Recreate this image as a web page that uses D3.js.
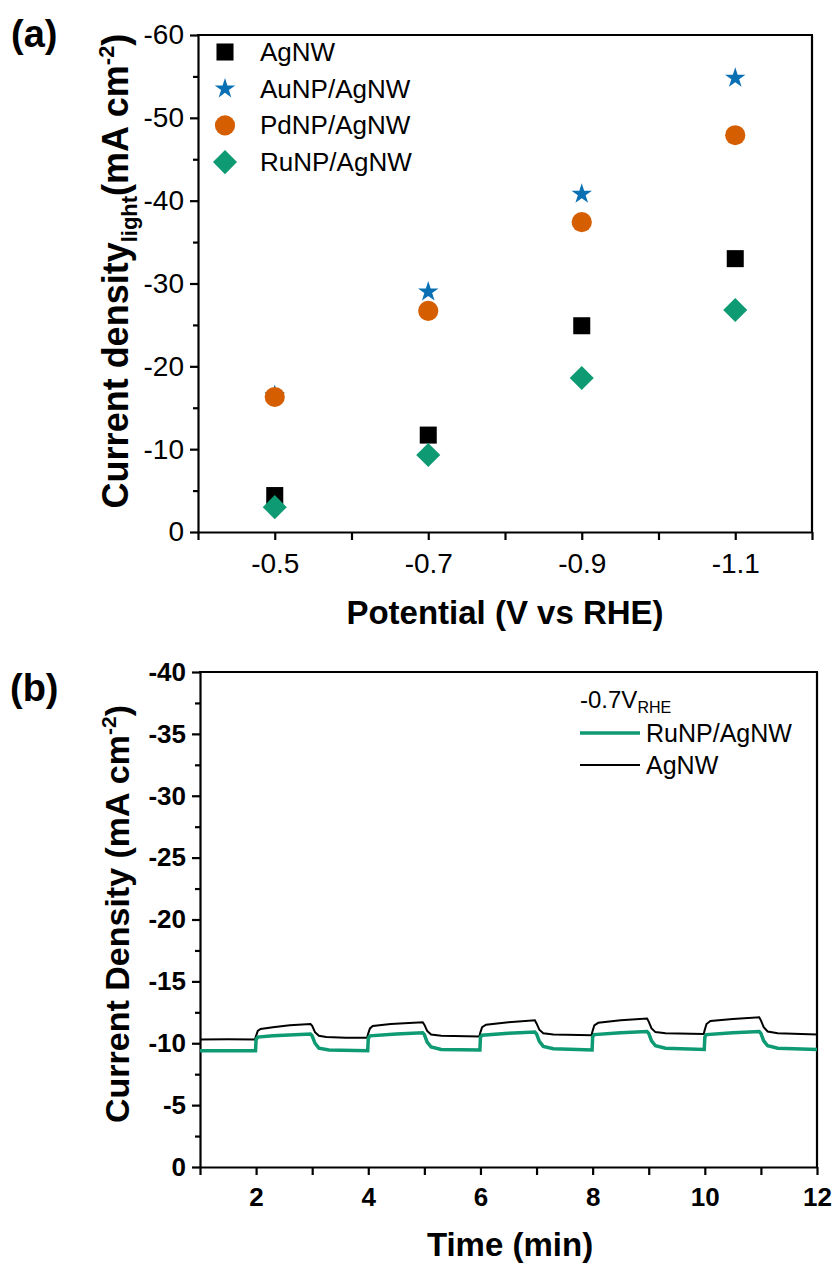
<!DOCTYPE html>
<html>
<head>
<meta charset="utf-8">
<script src="https://cdn.jsdelivr.net/npm/d3@7"></script>
<style>
  body { margin: 0; background: #fff; }
  text { font-family: "Liberation Sans", Arial, sans-serif; }
</style>
</head>
<body>
<svg width="835" height="1264"></svg>
<script>
// panel (a) data
var potentials = [-0.5, -0.7, -0.9, -1.1];
var agnw = [-4.4, -11.7, -24.9, -33.0];
var aunp = [-16.5, -29.0, -40.8, -54.8];
var pdnp = [-16.3, -26.7, -37.4, -47.9];
var runp = [-3.0, -9.3, -18.6, -26.8];
var seriesNames = ["AgNW", "AuNP/AgNW", "PdNP/AgNW", "RuNP/AgNW"];

var aXTicks = [-0.4, -0.5, -0.6, -0.7, -0.8, -0.9, -1.0, -1.1, -1.2];
var aXLabels = ["-0.5", "-0.7", "-0.9", "-1.1"];
var aYMajor = [0, -10, -20, -30, -40, -50, -60];
var aYMinor = [-5, -15, -25, -35, -45, -55];

// panel (b) data: [time (min), current density]
var agnwTime = [[1.0,-10.30],[1.5,-10.32],[1.98,-10.30],[2.0,-10.6],[2.03,-11.0],[2.08,-11.15],[2.3,-11.3],[2.6,-11.45],[2.97,-11.55],
  [3.0,-11.4],[3.05,-10.9],[3.12,-10.6],[3.25,-10.5],[3.6,-10.45],[3.98,-10.45],
  [4.0,-10.8],[4.03,-11.2],[4.08,-11.4],[4.4,-11.55],[4.97,-11.7],[5.0,-11.5],[5.05,-11.0],[5.12,-10.7],[5.3,-10.6],[5.98,-10.55],
  [6.0,-10.9],[6.03,-11.3],[6.1,-11.5],[6.5,-11.7],[6.97,-11.85],[7.0,-11.6],[7.05,-11.1],[7.12,-10.8],[7.3,-10.7],[7.98,-10.65],
  [8.0,-11.0],[8.03,-11.45],[8.1,-11.65],[8.5,-11.85],[8.97,-12.0],[9.0,-11.75],[9.05,-11.2],[9.12,-10.9],[9.3,-10.8],[9.98,-10.75],
  [10.0,-11.1],[10.03,-11.55],[10.1,-11.8],[10.5,-11.95],[10.97,-12.1],[11.0,-11.85],[11.05,-11.3],[11.12,-10.95],[11.3,-10.8],[12.0,-10.7]];
var runpTime = [[1.0,-9.4],[1.99,-9.4],[2.0,-10.3],[2.03,-10.5],[2.3,-10.6],[2.97,-10.75],[3.0,-10.6],[3.05,-10.0],[3.12,-9.6],[3.3,-9.45],[3.99,-9.4],
  [4.0,-10.4],[4.03,-10.6],[4.5,-10.75],[4.97,-10.85],[5.0,-10.7],[5.05,-10.1],[5.12,-9.7],[5.3,-9.5],[5.99,-9.45],
  [6.0,-10.5],[6.03,-10.65],[6.5,-10.8],[6.97,-10.9],[7.0,-10.75],[7.05,-10.15],[7.12,-9.75],[7.3,-9.55],[7.99,-9.45],
  [8.0,-10.5],[8.03,-10.7],[8.5,-10.85],[8.97,-10.95],[9.0,-10.8],[9.05,-10.2],[9.12,-9.8],[9.3,-9.6],[9.99,-9.5],
  [10.0,-10.5],[10.03,-10.7],[10.5,-10.85],[10.97,-10.95],[11.0,-10.8],[11.05,-10.2],[11.12,-9.8],[11.3,-9.6],[12.0,-9.5]];
var bXTicks = [1,2,3,4,5,6,7,8,9,10,11,12];
var bXLabels = [2,4,6,8,10,12];
var bYMajor = [0,-5,-10,-15,-20,-25,-30,-35,-40];
var bYMinor = [-2.5,-7.5,-12.5,-17.5,-22.5,-27.5,-32.5,-37.5];

var svg = d3.select('svg');

var colors = {black: "#000000", blue: "#0a70b4", orange: "#d55e00", green: "#0e9a73"};

function styleAxis(g, fontSize, weight) {
  g.select('.domain').attr('stroke-width', 2.2);
  g.selectAll('.tick line').attr('stroke-width', 2.2);
  g.selectAll('.tick text')
    .attr('font-family', '"Liberation Sans", Arial, sans-serif')
    .attr('font-size', fontSize)
    .attr('font-weight', weight)
    .attr('fill', '#000');
}

// ---------- panel (a) ----------
var ax = d3.scaleLinear().domain([-0.4, -1.2]).range([198, 812]);
var ay = d3.scaleLinear().domain([0, -60]).range([532, 35]);

var axG = svg.append('g').attr('transform', 'translate(0,532)')
  .call(d3.axisBottom(ax).tickValues(aXTicks).tickSize(8).tickSizeOuter(0).tickPadding(8)
    .tickFormat(d => aXLabels.indexOf(d.toFixed(1)) >= 0 ? d.toFixed(1) : ""));
styleAxis(axG, 28, 'normal');
axG.selectAll('.tick text').attr('dy', '0.9em');

var ayG = svg.append('g').attr('transform', 'translate(198,0)')
  .call(d3.axisLeft(ay).tickValues(aYMajor).tickSize(8).tickSizeOuter(0).tickPadding(6)
    .tickFormat(d => String(d)));
styleAxis(ayG, 28, 'normal');
svg.append('g').attr('transform', 'translate(198,0)')
  .call(d3.axisLeft(ay).tickValues(aYMinor).tickSize(5).tickFormat(''))
  .call(g => { g.select('.domain').remove(); g.selectAll('line').attr('stroke-width', 2.2); });

// frame
svg.append('line').attr('x1', 197).attr('x2', 813).attr('y1', ay(-60)).attr('y2', ay(-60)).attr('stroke', '#000').attr('stroke-width', 2.2);
svg.append('line').attr('x1', 812).attr('x2', 812).attr('y1', ay(-60)).attr('y2', ay(0)).attr('stroke', '#000').attr('stroke-width', 2.2);

var markerDefs = [
  {name: seriesNames[0], values: agnw, type: d3.symbolSquare, size: 290, color: colors.black, rot: 0},
  {name: seriesNames[1], values: aunp, type: d3.symbolStar, size: 130, color: colors.blue, rot: 0},
  {name: seriesNames[2], values: pdnp, type: d3.symbolCircle, size: 320, color: colors.orange, rot: 0},
  {name: seriesNames[3], values: runp, type: d3.symbolSquare, size: 290, color: colors.green, rot: 45}
];

markerDefs.forEach(function (s) {
  svg.append('g').selectAll('path')
    .data(potentials.map((p, i) => ({p: p, v: s.values[i]})))
    .enter().append('path')
    .attr('d', d3.symbol().type(s.type).size(s.size))
    .attr('transform', d => 'translate(' + ax(d.p) + ',' + ay(d.v) + ') rotate(' + s.rot + ')')
    .attr('fill', s.color);
});

// legend (a)
var legA = svg.append('g');
markerDefs.forEach(function (s, i) {
  var y = 52 + i * 36.7;
  legA.append('path')
    .attr('d', d3.symbol().type(s.type).size(s.size))
    .attr('transform', 'translate(225,' + y + ') rotate(' + s.rot + ')')
    .attr('fill', s.color);
  legA.append('text').attr('x', 260).attr('y', y + 9)
    .attr('font-size', 26).text(s.name);
});

// axis titles (a)
svg.append('text').attr('x', 505).attr('y', 624).attr('text-anchor', 'middle')
  .attr('font-size', 33).attr('font-weight', 'bold').text('Potential (V vs RHE)');

var yta = svg.append('text').attr('transform', 'translate(128,271) rotate(-90)')
  .attr('text-anchor', 'middle').attr('font-size', 36).attr('font-weight', 'bold');
yta.append('tspan').text('Current density');
yta.append('tspan').attr('font-size', 22).attr('dy', 9).text('light');
yta.append('tspan').attr('dy', -9).text('(mA cm');
yta.append('tspan').attr('font-size', 22).attr('dy', -14).text('-2');
yta.append('tspan').attr('dy', 14).text(')');

svg.append('text').attr('x', 11).attr('y', 47).attr('font-size', 38).attr('font-weight', 'bold').text('(a)');

// ---------- panel (b) ----------
var bx = d3.scaleLinear().domain([1, 12]).range([200, 817]);
var by = d3.scaleLinear().domain([0, -40]).range([1167, 672]);

var bxG = svg.append('g').attr('transform', 'translate(0,1167)')
  .call(d3.axisBottom(bx).tickValues(bXTicks).tickSize(8).tickSizeOuter(0).tickPadding(8)
    .tickFormat(d => bXLabels.indexOf(d) >= 0 ? String(d) : ""));
styleAxis(bxG, 26, 'bold');
bxG.selectAll('.tick text').attr('dy', '0.9em');

var byG = svg.append('g').attr('transform', 'translate(200,0)')
  .call(d3.axisLeft(by).tickValues(bYMajor).tickSize(8).tickSizeOuter(0).tickPadding(6)
    .tickFormat(d => String(d)));
styleAxis(byG, 26, 'bold');
svg.append('g').attr('transform', 'translate(200,0)')
  .call(d3.axisLeft(by).tickValues(bYMinor).tickSize(5).tickFormat(''))
  .call(g => { g.select('.domain').remove(); g.selectAll('line').attr('stroke-width', 2.2); });

svg.append('line').attr('x1', 199).attr('x2', 818).attr('y1', by(-40)).attr('y2', by(-40)).attr('stroke', '#000').attr('stroke-width', 2.2);
svg.append('line').attr('x1', 817).attr('x2', 817).attr('y1', by(-40)).attr('y2', by(0)).attr('stroke', '#000').attr('stroke-width', 2.2);

var line = d3.line().x(d => bx(d[0])).y(d => by(d[1]));
svg.append('path').datum(agnwTime).attr('d', line)
  .attr('fill', 'none').attr('stroke', colors.black).attr('stroke-width', 2);
svg.append('path').datum(runpTime).attr('d', line)
  .attr('fill', 'none').attr('stroke', colors.green).attr('stroke-width', 3.5);

// legend (b)
var legB = svg.append('g');
var lt = legB.append('text').attr('x', 580).attr('y', 708).attr('font-size', 24);
lt.append('tspan').text('-0.7V');
lt.append('tspan').attr('font-size', 16).attr('dy', 5).text('RHE');
legB.append('line').attr('x1', 580).attr('x2', 640).attr('y1', 733).attr('y2', 733)
  .attr('stroke', colors.green).attr('stroke-width', 3.5);
legB.append('text').attr('x', 646).attr('y', 742).attr('font-size', 25).text('RuNP/AgNW');
legB.append('line').attr('x1', 580).attr('x2', 640).attr('y1', 765).attr('y2', 765)
  .attr('stroke', colors.black).attr('stroke-width', 2);
legB.append('text').attr('x', 646).attr('y', 774).attr('font-size', 25).text('AgNW');

svg.append('text').attr('x', 510).attr('y', 1256).attr('text-anchor', 'middle')
  .attr('font-size', 33).attr('font-weight', 'bold').text('Time (min)');

var ytb = svg.append('text').attr('transform', 'translate(129,914) rotate(-90)')
  .attr('text-anchor', 'middle').attr('font-size', 34).attr('font-weight', 'bold');
ytb.append('tspan').text('Current Density (mA cm');
ytb.append('tspan').attr('font-size', 21).attr('dy', -13).text('-2');
ytb.append('tspan').attr('dy', 13).text(')');

svg.append('text').attr('x', 10).attr('y', 701).attr('font-size', 38).attr('font-weight', 'bold').text('(b)');
</script>
</body>
</html>
